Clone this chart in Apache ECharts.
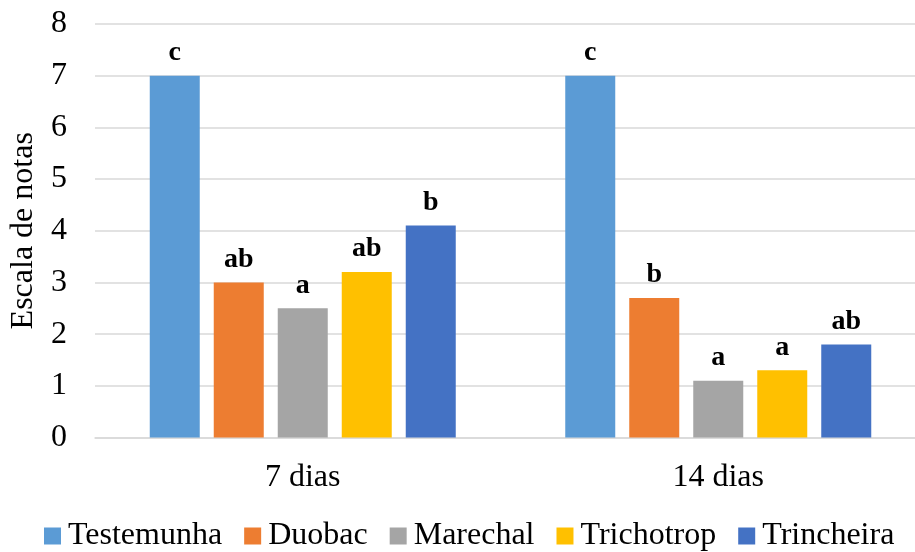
<!DOCTYPE html>
<html>
<head>
<meta charset="utf-8">
<script src="https://cdn.jsdelivr.net/npm/echarts@6/dist/echarts.min.js"></script>
<style>html,body{margin:0;padding:0;background:#fff;overflow:hidden;width:915px;height:552px;}#c{width:926px;height:552px;}</style>
</head>
<body>
<div id="c"></div>
<script>
const categories = ['7 dias', '14 dias'];
const seriesNames = ['Testemunha', 'Duobac', 'Marechal', 'Trichotrop', 'Trincheira'];
const testemunha = [7, 7];
const duobac = [3, 2.7];
const marechal = [2.5, 1.1];
const trichotrop = [3.2, 1.3];
const trincheira = [4.1, 1.8];
const letrasTestemunha = ['c', 'c'];
const letrasDuobac = ['ab', 'b'];
const letrasMarechal = ['a', 'a'];
const letrasTrichotrop = ['ab', 'a'];
const letrasTrincheira = ['b', 'ab'];
const yTicks = [0, 1, 2, 3, 4, 5, 6, 7, 8];

const colors = ['#5B9BD5', '#ED7D31', '#A5A5A5', '#FFC000', '#4472C4'];
const values = [testemunha, duobac, marechal, trichotrop, trincheira];
const letters = [letrasTestemunha, letrasDuobac, letrasMarechal, letrasTrichotrop, letrasTrincheira];
const font = 'Liberation Serif';

const chart = echarts.init(document.getElementById('c'));
chart.setOption({
  animation: false,
  color: colors,
  textStyle: { fontFamily: font },
  grid: { left: 94, top: 24, right: 0, bottom: 114.5, containLabel: false },
  legend: {
    data: seriesNames,
    left: 44,
    top: 518,
    padding: 0,
    itemWidth: 17,
    itemHeight: 17,
    itemGap: 22,
    icon: 'rect',
    textStyle: { fontFamily: font, fontSize: 32, color: '#000', lineHeight: 36, padding: [0, 0, 0, 2] }
  },
  xAxis: {
    type: 'category',
    data: categories,
    axisLine: { show: true, lineStyle: { color: '#d9d9d9', width: 1.5 } },
    axisTick: { show: false },
    axisLabel: { fontFamily: font, fontSize: 32, color: '#000', margin: 24 }
  },
  yAxis: {
    type: 'value',
    min: yTicks[0],
    max: yTicks[yTicks.length - 1],
    interval: 1,
    name: 'Escala de notas',
    nameLocation: 'middle',
    nameGap: 55,
    nameTextStyle: { fontFamily: font, fontSize: 32, color: '#000' },
    axisLine: { show: false },
    axisTick: { show: false },
    splitLine: { lineStyle: { color: '#d9d9d9', width: 1.5 } },
    axisLabel: { fontFamily: font, fontSize: 32, color: '#000', margin: 28 }
  },
  series: seriesNames.map((name, i) => ({
    name: name,
    type: 'bar',
    barWidth: 50,
    barGap: '28%',
    data: values[i],
    itemStyle: { color: colors[i] },
    label: {
      show: true,
      position: 'top',
      distance: 9,
      fontFamily: font,
      fontSize: 28,
      fontWeight: 'bold',
      color: '#000',
      formatter: p => letters[i][p.dataIndex]
    }
  }))
});
</script>
</body>
</html>
